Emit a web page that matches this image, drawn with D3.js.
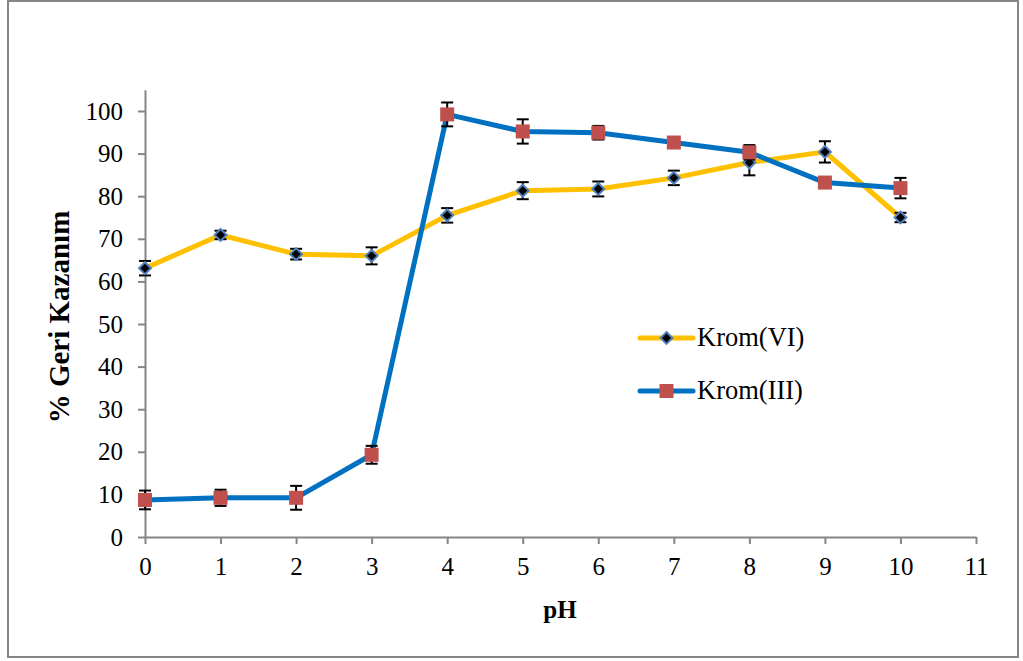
<!DOCTYPE html>
<html>
<head>
<meta charset="utf-8">
<script src="https://cdn.jsdelivr.net/npm/d3@7"></script>
<style>
  html, body { margin: 0; padding: 0; background: #fff; }
  svg { display: block; }
  svg text { font-family: "Liberation Serif", "Times New Roman", serif; fill: #000; }
</style>
</head>
<body>
<svg id="chart" width="1023" height="661"></svg>
<script>
// pH values and recovery (%) for each chromium species, with error bar half-widths
const phValues = [0, 1, 2, 3, 4, 5, 6, 7, 8, 9, 10];
const cr6Values = [63.1, 70.9, 66.4, 66.0, 75.5, 81.3, 81.7, 84.3, 87.9, 90.4, 75.0];
const cr6Errors = [1.7, 1.0, 1.25, 2.0, 1.7, 2.0, 1.75, 1.7, 3.0, 2.5, 1.1];
const cr3Values = [8.7, 9.2, 9.2, 19.3, 99.2, 95.2, 94.9, 92.6, 90.3, 83.2, 81.9];
const cr3Errors = [2.2, 1.9, 2.8, 2.1, 2.8, 2.85, 1.6, 0.8, 1.7, 0.5, 2.4];
const xTicks = [0, 1, 2, 3, 4, 5, 6, 7, 8, 9, 10, 11];
const yTicks = [0, 10, 20, 30, 40, 50, 60, 70, 80, 90, 100];
const seriesNames = ["Krom(VI)", "Krom(III)"];

const svg = d3.select("#chart");
const axisColor = "#868686";
const serif = "'Liberation Serif', 'Times New Roman', serif";

// outer frame
svg.append("rect")
  .attr("x", 8).attr("y", 1).attr("width", 1010).attr("height", 656)
  .attr("fill", "none").attr("stroke", axisColor).attr("stroke-width", 2);

const x = d3.scaleLinear().domain([0, 11]).range([145, 976]);
const y = d3.scaleLinear().domain([0, 105]).range([537, 89.7]);

// axes
const xAxis = svg.append("g").attr("transform", `translate(0,${y(0)})`)
  .call(d3.axisBottom(x).tickValues(xTicks).tickSize(7).tickSizeOuter(0).tickPadding(13));
const yAxis = svg.append("g").attr("transform", `translate(${x(0)},0)`)
  .call(d3.axisLeft(y).tickValues(yTicks).tickSize(7).tickSizeOuter(0).tickPadding(15));
[xAxis, yAxis].forEach(g => {
  g.attr("font-family", serif).attr("font-size", 25);
  g.selectAll("path, line").attr("stroke", axisColor).attr("stroke-width", 2);
  g.selectAll("text").attr("fill", "#000");
});

// axis titles
svg.append("text").attr("x", 560).attr("y", 618).attr("text-anchor", "middle")
  .attr("font-family", serif).attr("font-size", 25).attr("font-weight", "bold").text("pH");
svg.append("text").attr("transform", "translate(69,317) rotate(-90)")
  .attr("text-anchor", "middle")
  .attr("font-family", serif).attr("font-size", 29).attr("font-weight", "bold").text("% Geri Kazanım");

const series = [
  { name: seriesNames[0], values: cr6Values, errors: cr6Errors, color: "#FFC000", marker: "diamond" },
  { name: seriesNames[1], values: cr3Values, errors: cr3Errors, color: "#0070C0", marker: "square" }
];

const line = d3.line().x((d, i) => x(phValues[i])).y(d => y(d));

function drawMarker(g, type, cx, cy) {
  if (type === "diamond") {
    g.append("path")
      .attr("d", d3.symbol(d3.symbolDiamond2, 90)())
      .attr("transform", `translate(${cx},${cy})`)
      .attr("fill", "#000").attr("stroke", "#4F81BD").attr("stroke-width", 2);
  } else {
    g.append("rect")
      .attr("x", cx - 7).attr("y", cy - 7).attr("width", 14).attr("height", 14)
      .attr("fill", "#C0504D");
  }
}

series.forEach(s => {
  const g = svg.append("g");
  g.append("path").datum(s.values).attr("d", line)
    .attr("fill", "none").attr("stroke", s.color).attr("stroke-width", 5)
    .attr("stroke-linejoin", "round");
  // error bars
  s.values.forEach((v, i) => {
    const cx = x(phValues[i]);
    const y1 = y(v + s.errors[i]), y2 = y(v - s.errors[i]);
    const eb = g.append("g").attr("stroke", "#000").attr("stroke-width", 2);
    eb.append("line").attr("x1", cx).attr("x2", cx).attr("y1", y1).attr("y2", y2);
    eb.append("line").attr("x1", cx - 6).attr("x2", cx + 6).attr("y1", y1).attr("y2", y1);
    eb.append("line").attr("x1", cx - 6).attr("x2", cx + 6).attr("y1", y2).attr("y2", y2);
  });
  s.values.forEach((v, i) => drawMarker(g, s.marker, x(phValues[i]), y(v)));
});

// legend
series.forEach((s, k) => {
  const ly = 338 + k * 53;
  const g = svg.append("g");
  g.append("line").attr("x1", 640).attr("x2", 693).attr("y1", ly).attr("y2", ly)
    .attr("stroke", s.color).attr("stroke-width", 5).attr("stroke-linecap", "round");
  drawMarker(g, s.marker, 666.5, ly);
  g.append("text").attr("x", 697).attr("y", ly + 8)
    .attr("font-family", serif).attr("font-size", 26.5).text(s.name);
});
</script>
</body>
</html>
